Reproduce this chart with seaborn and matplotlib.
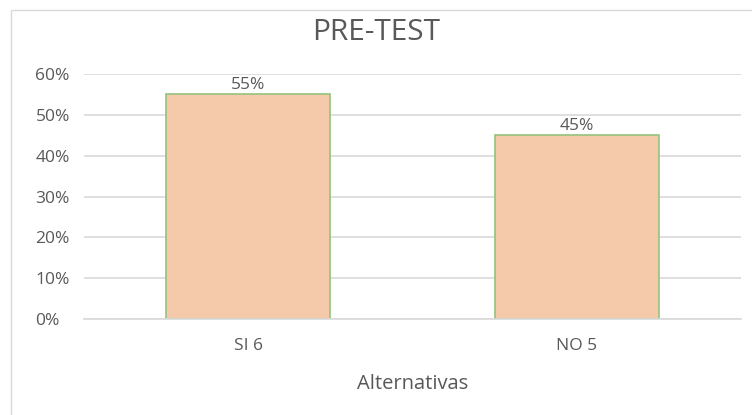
#!/usr/bin/env python3
"""Bar chart PRE-TEST
"""

import pandas as pd
import matplotlib.pyplot as plt
from matplotlib.patches import Rectangle
from matplotlib.ticker import PercentFormatter
import seaborn as sns

categories = ['SI 6', 'NO 5']
values = [0.55, 0.45]
yticks = [0, 0.1, 0.2, 0.3, 0.4, 0.5, 0.6]

TEXT = '#595959'


def main():
    df = pd.DataFrame({'Alternativas': categories, 'Porcentaje': values})

    sns.set_style('white')
    plt.rcParams['font.family'] = ['Open Sans', 'DejaVu Sans']

    fig = plt.figure(figsize=(7.52, 4.15), dpi=100)
    ax = fig.add_axes([84 / 752, 1 - 319 / 415, 657 / 752, 245 / 415])

    sns.barplot(data=df, x='Alternativas', y='Porcentaje', ax=ax,
                color='#f5caaa', edgecolor='#93c47d', linewidth=1.2,
                width=0.5, saturation=1)

    ax.set_ylim(0, 0.6)
    ax.set_yticks(yticks)
    ax.yaxis.set_major_formatter(PercentFormatter(1.0, decimals=0))
    ax.grid(axis='y', color='#d9d9d9', linewidth=1.2)
    ax.set_axisbelow(True)
    for s in ax.spines.values():
        s.set_visible(False)
    ax.spines['bottom'].set_visible(True)
    ax.spines['bottom'].set_color('#d9d9d9')
    ax.spines['bottom'].set_linewidth(1.2)
    ax.set_xlim(-0.5, 1.5)
    ax.tick_params(axis='both', length=0, labelsize=12.5, colors=TEXT)
    ax.tick_params(axis='y', pad=35)
    ax.tick_params(axis='x', pad=14)
    for lbl in ax.get_yticklabels():
        lbl.set_horizontalalignment('left')

    for container in ax.containers:
        ax.bar_label(container, labels=[f'{v:.0%}' for v in values],
                     padding=1, fontsize=12.5, color=TEXT)

    ax.set_ylabel('')
    ax.set_xlabel('Alternativas', fontsize=14.5, color=TEXT, labelpad=14)

    fig.text(376 / 752, 1 - 33 / 415, 'PRE-TEST', ha='center', va='center',
             fontsize=21.5, color=TEXT)

    fig.patches.append(Rectangle((11 / 752, -0.1), 1.1, 1 - 10 / 415 + 0.1,
                                 transform=fig.transFigure, fill=False,
                                 edgecolor='#d9d9d9', linewidth=1))

    fig.savefig('out.png', dpi=100)


if __name__ == '__main__':
    main()
